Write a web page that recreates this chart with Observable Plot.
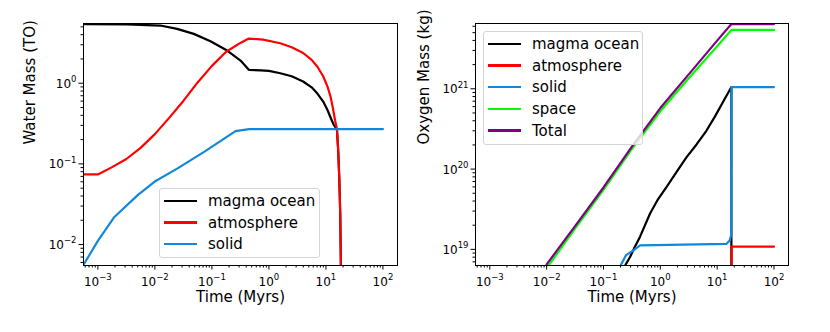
<!DOCTYPE html>
<html><head><meta charset="utf-8">
<script src="https://cdn.jsdelivr.net/npm/d3@7"></script>
<script src="https://cdn.jsdelivr.net/npm/@observablehq/plot@0.6"></script>
<style>
body{margin:0;background:#fff;font-family:"DejaVu Sans",sans-serif;}
#wrap{display:flex;width:830px;height:332px;}
.panel{position:relative;width:415px;height:332px;}
.panel svg{display:block;overflow:visible;}
.legend{position:absolute;box-sizing:border-box;background:rgba(255,255,255,0.8);border:1px solid #d4d4d4;border-radius:3px;font-size:15px;color:#000;padding-top:1px;}
.row{display:flex;align-items:center;height:21.7px;white-space:nowrap;}
.swatch{display:inline-block;width:33px;height:2.3px;margin-left:4px;margin-right:11px;}
</style></head><body>
<div id="wrap"><div class="panel" id="left"></div><div class="panel" id="right"></div></div>
<script>
// ---- labels & ticks ----
const seriesNames = ["magma ocean", "atmosphere", "solid", "space", "Total"];
const seriesColors = ["#000000", "#ff0000", "#1188dd", "#00ff00", "#800080"];
const xLabel = "Time (Myrs)";
const waterLabel = "Water Mass (TO)";
const oxygenLabel = "Oxygen Mass (kg)";
const tickBase = "10";
const xTicks = [1e-3, 1e-2, 1e-1, 1, 10, 100];
const xTickExps = ["−3", "−2", "−1", "0", "1", "2"];
const waterYTicks = [1e-2, 1e-1, 1];
const waterYTickExps = ["−2", "−1", "0"];
const oxygenYTicks = [1e19, 1e20, 1e21];
const oxygenYTickExps = ["19", "20", "21"];

// ---- water panel (TO) ----
const waterMagmaT = [5.6e-4, 0.00327, 0.0125, 0.0245, 0.0482, 0.0944, 0.185, 0.318, 0.444, 0.724, 1.0, 1.585, 2.51, 3.98, 5.62, 7.08, 8.91, 10.7, 12.3, 13.8, 15.6, 16.4, 17.2, 17.8, 18.3, 18.6];
const waterMagma  = [5.4, 5.35, 5.19, 4.72, 4.09, 3.32, 2.54, 1.91, 1.466, 1.44, 1.42, 1.33, 1.22, 1.05, 0.89, 0.745, 0.596, 0.462, 0.363, 0.302, 0.269, 0.148, 0.063, 0.025, 0.0055, 0.001];
const waterAtmT = [5.6e-4, 0.001, 0.00178, 0.00316, 0.00562, 0.01, 0.0178, 0.0316, 0.0562, 0.1, 0.178, 0.316, 0.444, 0.794, 1.585, 2.51, 3.98, 5.62, 7.08, 8.91, 10.7, 12.0, 13.2, 14.45, 15.6, 16.4, 17.2, 17.8, 18.3, 18.6];
const waterAtm  = [0.074, 0.074, 0.0912, 0.115, 0.158, 0.234, 0.372, 0.603, 1.023, 1.64, 2.455, 3.16, 3.58, 3.47, 3.13, 2.79, 2.37, 1.95, 1.60, 1.23, 0.90, 0.69, 0.50, 0.347, 0.269, 0.148, 0.063, 0.025, 0.0055, 0.001];
const waterSolidT = [5.6e-4, 1e-3, 1.95e-3, 5e-3, 9.8e-3, 0.025, 0.073, 0.26, 0.45, 100];
const waterSolid  = [0.0056, 0.0111, 0.022, 0.041, 0.060, 0.088, 0.141, 0.255, 0.27, 0.27];

// ---- oxygen panel (kg) ----
const oxyMagmaT = [0.24, 0.295, 0.355, 0.44, 0.66, 0.89, 1.29, 1.95, 2.9, 4.37, 6.46, 9.12, 12.6, 17.8, 17.8];
const oxyMagma  = [6.3e18, 8.1e18, 1.07e19, 1.44e19, 2.8e19, 4.1e19, 6.0e19, 9.3e19, 1.41e20, 2.04e20, 3.0e20, 4.5e20, 6.8e20, 1.05e21, 1e18];
const oxyAtmT = [18.0, 18.0, 100];
const oxyAtm  = [1e18, 1.08e19, 1.08e19];
const oxySolidT = [0.2, 0.25, 0.34, 0.44, 14.5, 16.6, 17.6, 17.8, 100];
const oxySolid  = [6.3e18, 8.5e18, 9.8e18, 1.12e19, 1.17e19, 1.29e19, 1.5e19, 1.05e21, 1.05e21];
const oxySpaceT = [0.011, 0.0316, 0.1, 0.316, 1, 3.16, 10, 17.8, 100];
const oxySpace  = [6.4e18, 1.82e19, 5.5e19, 1.78e20, 5.25e20, 1.35e21, 3.39e21, 5.4e21, 5.4e21];
const oxyTotalT = [0.01, 0.0316, 0.1, 0.316, 1, 3.16, 10, 17.8, 100];
const oxyTotal  = [6.5e18, 1.95e19, 5.9e19, 1.9e20, 5.75e20, 1.51e21, 3.98e21, 6.4e21, 6.4e21];

// ---- helpers ----
const toRows = (ts, vs) => ts.map((t, i) => ({t, v: vs[i]}));
function minorTicks([lo, hi]) {
  const out = [];
  for (let e = Math.floor(Math.log10(lo)); e <= Math.ceil(Math.log10(hi)); e++)
    for (let m = 2; m <= 9; m++) { const v = m * Math.pow(10, e); if (v >= lo && v <= hi) out.push(v); }
  return out;
}
const ctx = document.createElement("canvas").getContext("2d");
function textWidth(s, fs) { ctx.font = `${fs}px "DejaVu Sans"`; return ctx.measureText(s).width; }
const baseFs = 12, expFs = 8.5;
const xDomain = [5.6e-4, 180];

function xTickLabelMarks() {
  const wb = textWidth(tickBase, baseFs);
  return xTicks.flatMap((t, i) => {
    const we = textWidth(xTickExps[i], expFs), W = wb + we;
    return [
      Plot.text([t], {x: d => d, text: () => tickBase, frameAnchor: "bottom", textAnchor: "start", lineAnchor: "bottom", dx: -W / 2, dy: 20, fontSize: baseFs}),
      Plot.text([t], {x: d => d, text: () => xTickExps[i], frameAnchor: "bottom", textAnchor: "start", lineAnchor: "bottom", dx: -W / 2 + wb, dy: 14.3, fontSize: expFs})
    ];
  });
}
function yTickLabelMarks(ticks, exps) {
  return ticks.flatMap((t, i) => {
    const we = textWidth(exps[i], expFs);
    return [
      Plot.text([t], {y: d => d, text: () => tickBase, frameAnchor: "left", textAnchor: "end", lineAnchor: "bottom", dx: -7 - we, dy: 4.6, fontSize: baseFs}),
      Plot.text([t], {y: d => d, text: () => exps[i], frameAnchor: "left", textAnchor: "end", lineAnchor: "bottom", dx: -7, dy: -1.1, fontSize: expFs})
    ];
  });
}

function panel({el, series, yDomain, yTicks, yTickExps, yLabel, marginLeft, marginRight, labelDx, legendPos, legendIdx}) {
  const lines = series.map(s => Plot.line(toRows(s.t, s.v), {x: "t", y: "v", stroke: seriesColors[s.c], strokeWidth: 2.2, clip: true}));
  const chart = Plot.plot({
    width: 415, height: 332, marginLeft, marginRight, marginTop: 23, marginBottom: 67,
    style: {fontFamily: "DejaVu Sans", fontSize: "12px", color: "#000", background: "transparent", overflow: "visible"},
    x: {type: "log", domain: xDomain},
    y: {type: "log", domain: yDomain},
    marks: [
      ...lines,
      Plot.axisX(minorTicks(xDomain), {tickSize: 2.5, tickFormat: () => "", label: null}),
      Plot.axisX(xTicks, {tickSize: 4.5, tickFormat: () => "", label: null}),
      Plot.axisY(minorTicks(yDomain), {tickSize: 2.5, tickFormat: () => "", label: null}),
      Plot.axisY(yTicks, {tickSize: 4.5, tickFormat: () => "", label: null}),
      ...xTickLabelMarks(),
      ...yTickLabelMarks(yTicks, yTickExps),
      Plot.text([xLabel], {text: d => d, frameAnchor: "bottom", dy: 32, lineAnchor: "middle", fontSize: 15}),
      Plot.text([yLabel], {text: d => d, frameAnchor: "left", dx: labelDx, rotate: -90, lineAnchor: "middle", fontSize: 15}),
      Plot.frame({stroke: "#000", strokeWidth: 1})
    ]
  });
  const host = document.getElementById(el);
  host.appendChild(chart);
  const lg = document.createElement("div");
  lg.className = "legend";
  Object.assign(lg.style, {left: legendPos[0] + "px", top: legendPos[1] + "px", width: legendPos[2] + "px", height: legendPos[3] + "px"});
  for (const i of legendIdx) {
    const row = document.createElement("div"); row.className = "row";
    const sw = document.createElement("span"); sw.className = "swatch"; sw.style.background = seriesColors[i];
    const tx = document.createElement("span"); tx.textContent = seriesNames[i];
    row.appendChild(sw); row.appendChild(tx); lg.appendChild(row);
  }
  host.appendChild(lg);
}

panel({
  el: "left",
  series: [
    {t: waterMagmaT, v: waterMagma, c: 0},
    {t: waterAtmT, v: waterAtm, c: 1},
    {t: waterSolidT, v: waterSolid, c: 2}
  ],
  yDomain: [0.0055, 5.5], yTicks: waterYTicks, yTickExps: waterYTickExps, yLabel: waterLabel,
  marginLeft: 83, marginRight: 18, labelDx: -53, legendPos: [159, 188, 161, 70], legendIdx: [0, 1, 2]
});
panel({
  el: "right",
  series: [
    {t: oxyMagmaT, v: oxyMagma, c: 0},
    {t: oxyAtmT, v: oxyAtm, c: 1},
    {t: oxySolidT, v: oxySolid, c: 2},
    {t: oxySpaceT, v: oxySpace, c: 3},
    {t: oxyTotalT, v: oxyTotal, c: 4}
  ],
  yDomain: [6.3e18, 6.5e21], yTicks: oxygenYTicks, yTickExps: oxygenYTickExps, yLabel: oxygenLabel,
  marginLeft: 60, marginRight: 42, labelDx: -51, legendPos: [68, 31, 160, 114], legendIdx: [0, 1, 2, 3, 4]
});
</script>
</body></html>
